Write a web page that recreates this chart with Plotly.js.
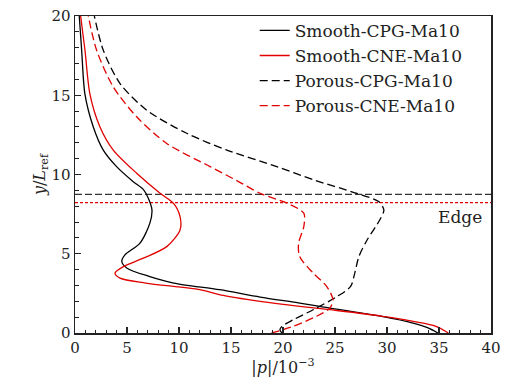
<!DOCTYPE html>
<html>
<head>
<meta charset="utf-8">
<script src="https://cdn.plot.ly/plotly-3.0.1.min.js"></script>
<style>html,body{margin:0;padding:0;background:#fff;}#chart{width:508px;height:389px;}</style>
</head>
<body>
<div id="chart"></div>
<script>
// Smooth-CPG-Ma10 (black solid)
const smoothCPG_y = [0, 0.31, 0.63, 1.05, 1.68, 1.89, 2.27, 2.73, 3.15, 3.56, 4.09, 4.51, 4.93, 5.67, 6.93, 7.76, 8.5, 9.03, 9.55, 10.5, 11.54, 13.0, 15.05, 17.84, 20];
const smoothCPG_x = [34.9, 34.0, 32.5, 29.5, 23.5, 21.6, 17.8, 13.9, 9.5, 7.2, 5.0, 4.5, 4.8, 6.25, 7.2, 7.4, 7.05, 6.6, 5.6, 4.0, 2.72, 1.76, 0.96, 0.64, 0.41];
// Smooth-CNE-Ma10 (red solid)
const smoothCNE_y = [0, 0.42, 1.05, 1.47, 1.68, 2.0, 2.41, 2.73, 3.15, 3.46, 3.78, 4.19, 4.72, 5.45, 6.5, 7.34, 8.19, 8.82, 10.08, 11.54, 13.0, 15.05, 17.84, 20];
const smoothCNE_x = [35.9, 34.7, 29.6, 24.5, 21.6, 17.8, 13.95, 12.0, 6.8, 4.33, 3.85, 4.65, 6.57, 8.82, 10.1, 10.1, 9.46, 8.18, 5.93, 3.68, 2.4, 1.44, 0.96, 0.54];
// Porous-CPG-Ma10 (black dashed)
const porousCPG_y = [0, 0.2, 0.42, 0.84, 1.47, 2.3, 2.94, 3.78, 4.83, 5.88, 7.13, 7.76, 8.29, 8.81, 9.65, 10.5, 11.54, 12.6, 14.06, 15.74, 17.84, 20];
const porousCPG_x = [19.9, 19.7, 19.9, 21.0, 22.9, 25.2, 26.5, 26.9, 27.3, 28.1, 29.3, 29.7, 29.2, 27.1, 23.0, 19.4, 14.6, 10.74, 6.89, 4.33, 2.72, 1.86];
// Porous-CNE-Ma10 (red dashed)
const porousCNE_y = [0, 0.42, 1.05, 1.57, 2.1, 2.94, 3.78, 4.83, 5.67, 6.71, 7.56, 8.19, 8.81, 9.6, 10.5, 11.96, 13.64, 15.53, 17.84, 20];
const porousCNE_x = [18.9, 21.0, 23.2, 24.5, 24.8, 24.2, 22.9, 21.6, 21.5, 22.0, 22.0, 20.4, 17.8, 15.6, 12.99, 8.82, 5.93, 3.68, 2.08, 1.28];
// Boundary-layer edge heights
const edgePorous_y = 8.75;
const edgeSmooth_y = 8.22;
const edgeSpan_x = [0, 40];
const seriesNames = ['Smooth-CPG-Ma10', 'Smooth-CNE-Ma10', 'Porous-CPG-Ma10', 'Porous-CNE-Ma10'];
const xTicks = [0, 5, 10, 15, 20, 25, 30, 35, 40];
const yTicks = [0, 5, 10, 15, 20];

const RED = '#e00000';
const FONT = 'DejaVu Serif, serif';

const traces = [
  {x: edgeSpan_x, y: [edgePorous_y, edgePorous_y], mode: 'lines', showlegend: false, hoverinfo: 'skip',
   line: {color: '#333', width: 1.3, dash: '7px,3px'}},
  {x: edgeSpan_x, y: [edgeSmooth_y, edgeSmooth_y], mode: 'lines', showlegend: false, hoverinfo: 'skip',
   line: {color: RED, width: 1.3, dash: '3px,2px'}},
  {x: smoothCPG_x, y: smoothCPG_y, name: seriesNames[0], mode: 'lines', line: {color: '#000', width: 1.3, shape: 'spline', smoothing: 0.8}},
  {x: smoothCNE_x, y: smoothCNE_y, name: seriesNames[1], mode: 'lines', line: {color: RED, width: 1.3, shape: 'spline', smoothing: 0.8}},
  {x: porousCPG_x, y: porousCPG_y, name: seriesNames[2], mode: 'lines', line: {color: '#000', width: 1.3, dash: '8px,4px', shape: 'spline', smoothing: 0.8}},
  {x: porousCNE_x, y: porousCNE_y, name: seriesNames[3], mode: 'lines', line: {color: RED, width: 1.3, dash: '8px,4px', shape: 'spline', smoothing: 0.8}}
];

const axisCommon = {
  showgrid: false, zeroline: false, showline: true, linecolor: '#222', linewidth: 1.5, mirror: true,
  ticks: 'inside', ticklen: 6, tickwidth: 1.2, tickcolor: '#222',
  tickfont: {family: FONT, size: 15, color: '#222'},
  minor: {ticks: 'inside', ticklen: 3.5, tickwidth: 1, tickcolor: '#222', dtick: 1}
};

const layout = {
  width: 508, height: 389,
  margin: {l: 75, r: 17, t: 16, b: 56},
  paper_bgcolor: '#fff', plot_bgcolor: '#fff',
  showlegend: true,
  legend: {x: 0.432, y: 1.01, xanchor: 'left', yanchor: 'top', bgcolor: 'rgba(0,0,0,0)', borderwidth: 0,
           font: {family: FONT, size: 17, color: '#222'}, tracegroupgap: 0},
  xaxis: Object.assign({}, axisCommon, {range: [0, 40], tickvals: xTicks, ticktext: xTicks.map(String),
    title: {text: '|<i>p</i>|/10<sup>\u22123</sup>', font: {family: FONT, size: 16, color: '#222'}, standoff: 3}}),
  yaxis: Object.assign({}, axisCommon, {range: [0, 20], tickvals: yTicks, ticktext: yTicks.map(String),
    title: {text: '<i>y</i>/<i>L</i><sub>ref</sub>', font: {family: FONT, size: 16, color: '#222'}, standoff: 2}}),
  annotations: [{x: 37.05, y: 7.32, xref: 'x', yref: 'y', text: 'Edge', showarrow: false,
    font: {family: FONT, size: 17, color: '#222'}}]
};

Plotly.newPlot('chart', traces, layout, {displayModeBar: false, staticPlot: true});
</script>
</body>
</html>
